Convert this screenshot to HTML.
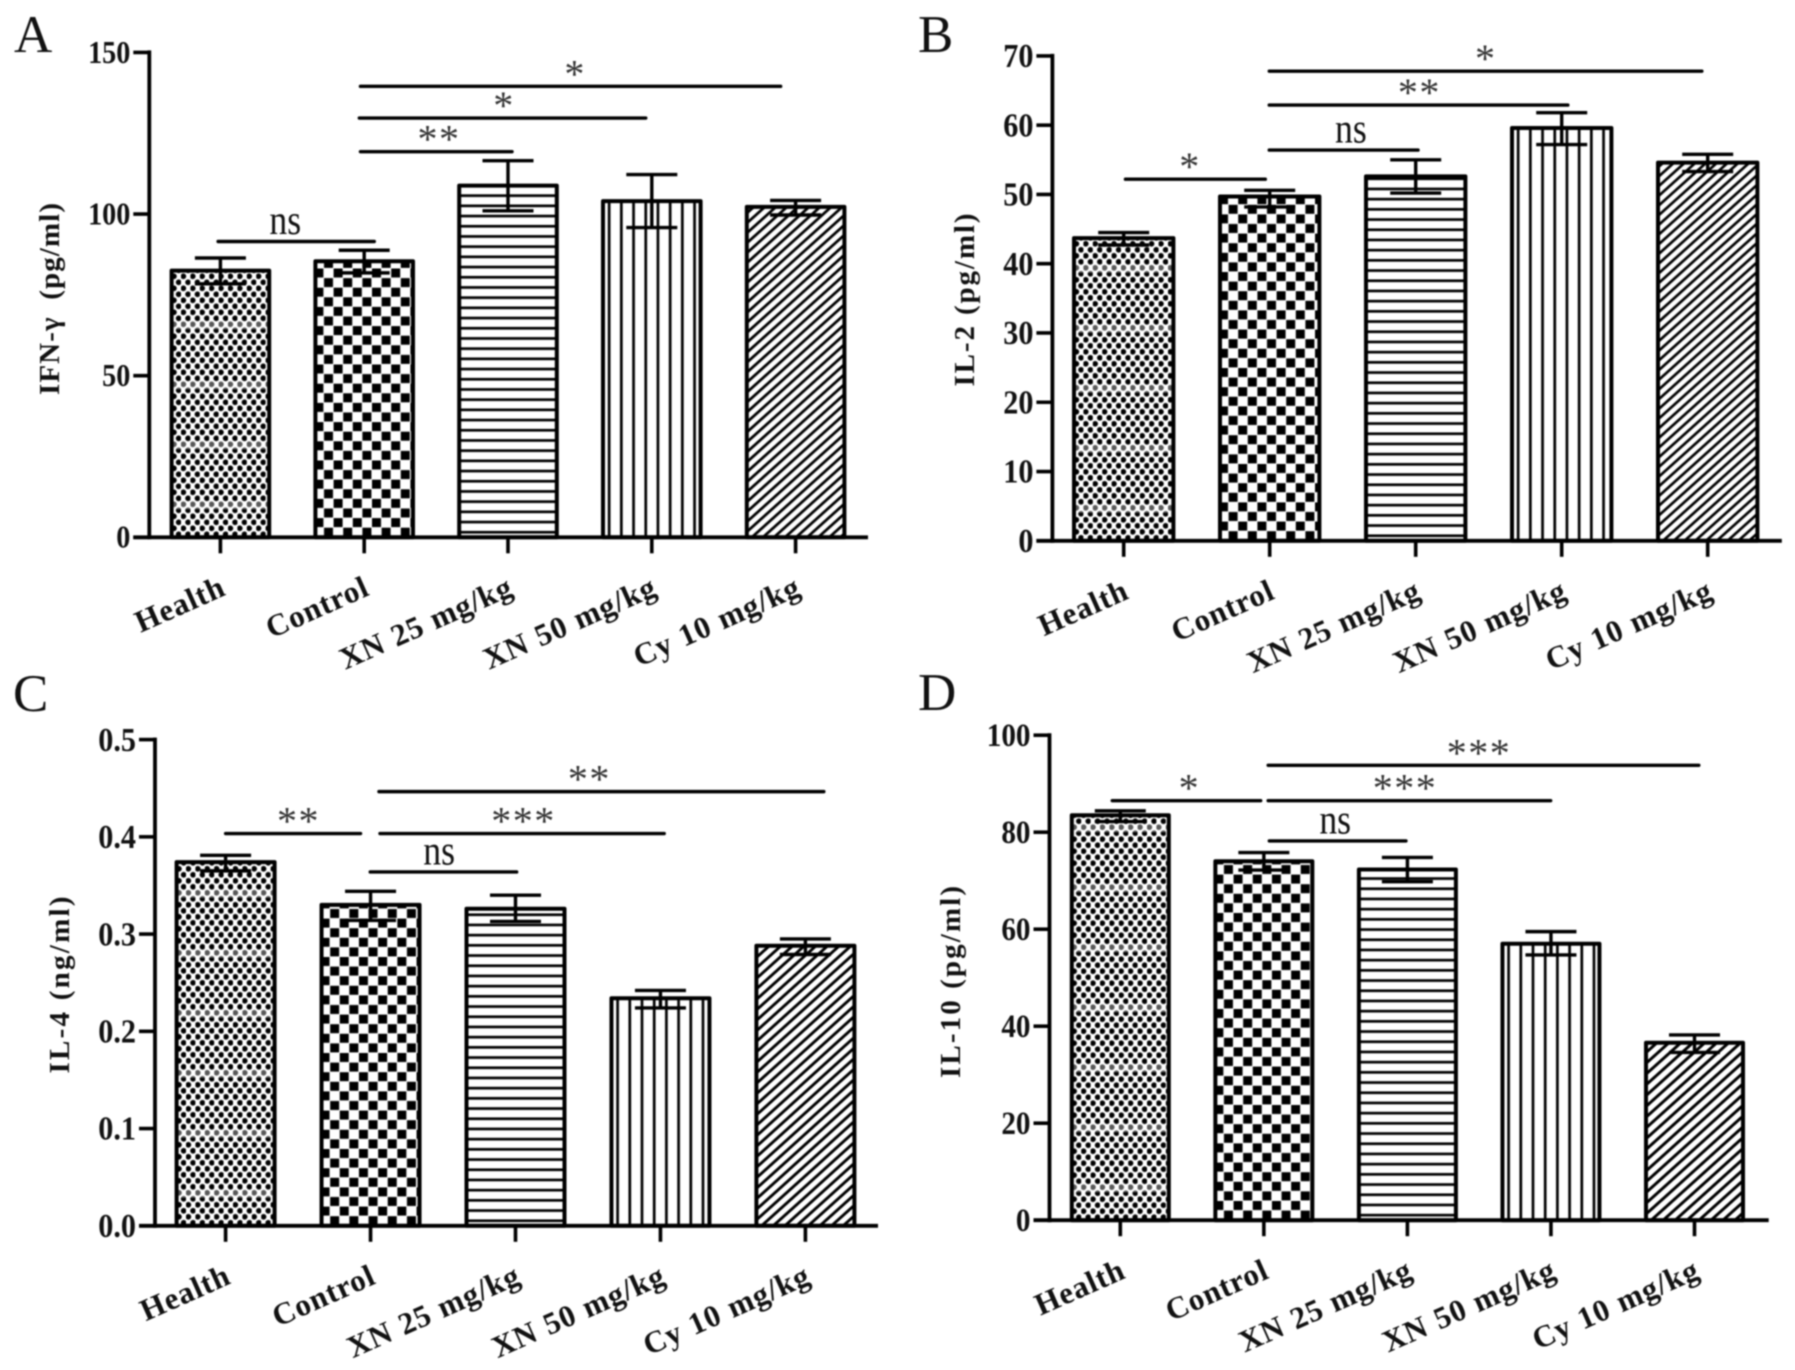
<!DOCTYPE html>
<html lang="en">
<head>
<meta charset="utf-8">
<title>Cytokine levels bar charts</title>
<style>
html,body{margin:0;padding:0;background:#fff;width:1795px;height:1370px;overflow:hidden}
#figure{display:block;filter:blur(0.8px)}
text{font-family:"Liberation Serif","DejaVu Serif",serif;fill:#111}
</style>
</head>
<body>
<svg id="figure" xmlns="http://www.w3.org/2000/svg" width="1795" height="1370" viewBox="0 0 1795 1370">
<defs id="defs"></defs>
</svg>
<script>
// ---- shared categories ----
const categories = ["Health", "Control", "XN 25 mg/kg", "XN 50 mg/kg", "Cy 10 mg/kg"];

// ---- panel A: IFN-gamma ----
const aTicks = ["0", "50", "100", "150"];
const aValues = [82.5, 85.4, 108.8, 104, 102.2];
const aErrHigh = [86.4, 88.8, 116.5, 112.2, 104.2];
const aErrLow = [78.4, 81.8, 101, 95.8, 99.7];
const aSigFrom = [-0.016, 0.974, 0.966, 0.974];
const aSigTo = [1.07, 2.028, 2.958, 3.896];
const aSigLevel = [91.5, 119.3, 129.7, 139.5];
const aSigLabel = ["ns", "**", "*", "*"];
const aSigAt = [0.451, 1.52, 1.972, 2.467];

// ---- panel B: IL-2 ----
const bTicks = ["0", "10", "20", "30", "40", "50", "60", "70"];
const bValues = [43.7, 49.7, 52.6, 59.6, 54.6];
const bErrHigh = [44.5, 50.6, 55, 61.8, 55.8];
const bErrLow = [42.7, 48.2, 50.2, 57.2, 53.3];
const bSigFrom = [0.012, 0.997, 0.997, 0.997];
const bSigTo = [0.97, 2.016, 3.042, 3.96];
const bSigLevel = [52.2, 56.4, 62.9, 67.8];
const bSigLabel = ["*", "ns", "**", "*"];
const bSigAt = [0.454, 1.556, 2.025, 2.48];

// ---- panel C: IL-4 ----
const cTicks = ["0.0", "0.1", "0.2", "0.3", "0.4", "0.5"];
const cValues = [0.374, 0.33, 0.326, 0.234, 0.288];
const cErrHigh = [0.381, 0.344, 0.34, 0.242, 0.295];
const cErrLow = [0.365, 0.314, 0.313, 0.224, 0.279];
const cSigFrom = [0, 1.065, 0.998, 1.058];
const cSigTo = [0.931, 3.026, 2.008, 4.127];
const cSigLevel = [0.4034, 0.4034, 0.3639, 0.4465];
const cSigLabel = ["**", "***", "ns", "**"];
const cSigAt = [0.503, 2.055, 1.473, 2.51];

// ---- panel D: IL-10 ----
const dTicks = ["0", "20", "40", "60", "80", "100"];
const dValues = [83.5, 74, 72.3, 57, 36.6];
const dErrHigh = [84.4, 75.8, 74.8, 59.5, 38.2];
const dErrLow = [82.2, 72.2, 69.8, 54.7, 34.6];
const dSigFrom = [-0.056, 1.03, 1.038, 1.03];
const dSigTo = [0.978, 2.998, 1.99, 4.03];
const dSigLevel = [86.5, 86.5, 78.2, 93.8];
const dSigLabel = ["*", "***", "ns", "***"];
const dSigAt = [0.481, 1.983, 1.497, 2.499];

const panels = [
  {id:"a", letter:"A", lx:14, ly:52, title:"IFN-γ  (pg/ml)", titleX:59, titleY:299, titleLen:192,
   axisX:149.3, xEnd:868, yTop:52.4, yZero:537.3, yMax:150, x0:220.4, step:143.8, half:48.8, tickFs:28, hatch:7.4,
   ticks:aTicks, values:aValues, hi:aErrHigh, lo:aErrLow, sf:aSigFrom, st:aSigTo, sl:aSigLevel, sn:aSigLabel, sa:aSigAt},
  {id:"b", letter:"B", lx:918, ly:52, title:"IL-2 (pg/ml)", titleX:974, titleY:300, titleLen:173,
   axisX:1052.4, xEnd:1781.8, yTop:55.9, yZero:540.8, yMax:70, x0:1123.7, step:146, half:49.7, tickFs:30, hatch:7.2,
   ticks:bTicks, values:bValues, hi:bErrHigh, lo:bErrLow, sf:bSigFrom, st:bSigTo, sl:bSigLevel, sn:bSigLabel, sa:bSigAt},
  {id:"c", letter:"C", lx:13, ly:711, title:"IL-4 (ng/ml)", titleX:69, titleY:985, titleLen:177,
   axisX:155, xEnd:878, yTop:739.6, yZero:1225.8, yMax:0.5, x0:225.6, step:144.95, half:49, tickFs:30, hatch:7.8,
   ticks:cTicks, values:cValues, hi:cErrHigh, lo:cErrLow, sf:cSigFrom, st:cSigTo, sl:cSigLevel, sn:cSigLabel, sa:cSigAt},
  {id:"d", letter:"D", lx:918, ly:710, title:"IL-10 (pg/ml)", titleX:960, titleY:982, titleLen:192,
   axisX:1049.5, xEnd:1768.7, yTop:735.2, yZero:1220.2, yMax:100, x0:1120.3, step:143.55, half:48.5, tickFs:29, hatch:8,
   ticks:dTicks, values:dValues, hi:dErrHigh, lo:dErrLow, sf:dSigFrom, st:dSigTo, sl:dSigLevel, sn:dSigLabel, sa:dSigAt}
];

const NS = "http://www.w3.org/2000/svg";
const svg = document.getElementById("figure");
const defs = document.getElementById("defs");

function make(parent, tag, attrs, txt) {
  const n = document.createElementNS(NS, tag);
  for (const k in attrs) n.setAttribute(k, attrs[k]);
  if (txt !== undefined) n.textContent = txt;
  parent.appendChild(n);
  return n;
}

function makePattern(id, kind, tx, ty, hatch) {
  if (kind === 0) {
    const p = make(defs, "pattern", {id:id, patternUnits:"userSpaceOnUse", width:9.4, height:60, patternTransform:"translate("+tx+" "+ty+")"});
    make(p, "rect", {width:9.4, height:60, fill:"#fff"});
    for (let r = 0; r < 5; r++) {
      make(p, "circle", {cx:2.35, cy:3 + r * 12, r:2.85, fill:"#000"});
      make(p, "circle", {cx:7.05, cy:9 + r * 12, r:2.85, fill:"#000"});
    }
    make(p, "rect", {x:0, y:24, width:9.4, height:8, fill:"#fff", opacity:0.35});
  } else if (kind === 1) {
    const p = make(defs, "pattern", {id:id, patternUnits:"userSpaceOnUse", width:19.2, height:19.2, patternTransform:"translate("+(tx-1)+" "+ty+")"});
    make(p, "rect", {width:19.2, height:19.2, fill:"#fff"});
    make(p, "rect", {x:0, y:0, width:9, height:9, fill:"#000"});
    make(p, "rect", {x:9.6, y:9.6, width:9, height:9, fill:"#000"});
  } else if (kind === 2) {
    const p = make(defs, "pattern", {id:id, patternUnits:"userSpaceOnUse", width:10.2, height:10.2, patternTransform:"translate("+tx+" "+ty+")"});
    make(p, "rect", {width:10.2, height:10.2, fill:"#fff"});
    make(p, "rect", {x:0, y:3.8, width:10.2, height:2.7, fill:"#000"});
  } else if (kind === 3) {
    const p = make(defs, "pattern", {id:id, patternUnits:"userSpaceOnUse", width:12.2, height:12.2, patternTransform:"translate("+tx+" "+ty+")"});
    make(p, "rect", {width:12.2, height:12.2, fill:"#fff"});
    make(p, "rect", {x:4.8, y:0, width:2.7, height:12.2, fill:"#000"});
  } else {
    const p = make(defs, "pattern", {id:id, patternUnits:"userSpaceOnUse", width:hatch, height:hatch, patternTransform:"translate("+tx+" "+ty+") rotate(48)"});
    make(p, "rect", {width:hatch, height:hatch, fill:"#fff"});
    make(p, "rect", {x:2, y:0, width:hatch * 0.37, height:hatch, fill:"#000"});
  }
}

panels.forEach(function (P) {
  const yScale = function (v) { return P.yZero - (v / P.yMax) * (P.yZero - P.yTop); };
  const xScale = function (i) { return P.x0 + i * P.step; };
  const tickLeft = P.axisX - 16;

  const g = make(svg, "g", {});
  
  

  const letter = make(g, "text", {x:P.lx, y:P.ly, "font-size":53}, P.letter);
  
  

  // bars
  P.values.forEach(function (v, i) {
    const cx = xScale(i);
    const top = yScale(v);
    const patId = "pat-" + P.id + "-" + i;
    makePattern(patId, i, cx - P.half, P.yZero, P.hatch);
    const bar = make(g, "rect", {x:cx - P.half, y:top, width:P.half * 2, height:P.yZero - top,
      fill:"url(#" + patId + ")", stroke:"#000", "stroke-width":4, "stroke-linejoin":"round"});
    
    
  });

  // error bars
  P.values.forEach(function (v, i) {
    const cx = xScale(i);
    const hiY = yScale(P.hi[i]);
    const loY = yScale(P.lo[i]);
    const eb = make(g, "path", {d:"M" + (cx - 25.5) + " " + hiY + "H" + (cx + 25.5) + "M" + cx + " " + hiY + "V" + loY + "M" + (cx - 25.5) + " " + loY + "H" + (cx + 25.5),
      fill:"none", stroke:"#000", "stroke-width":3.4});
    
    
  });

  // y axis
  const yAxis = make(g, "line", {x1:P.axisX, x2:P.axisX, y1:P.yTop - 2, y2:P.yZero + 2, stroke:"#000", "stroke-width":3.8});
  
  

  P.ticks.forEach(function (t) {
    const y = yScale(parseFloat(t));
    const tick = make(g, "line", {x1:tickLeft, x2:P.axisX, y1:y, y2:y, stroke:"#000", "stroke-width":3.6});
    
    
    const fs = P.tickFs * 1.13;
    const lab = make(g, "text", {x:0, y:0, "font-size":fs, "font-weight":"bold", "text-anchor":"end",
      transform:"translate(" + (tickLeft - 3) + " " + (y + fs * 0.33) + ") scale(0.89 1)"}, t);
    
    
  });

  // x axis
  const xAxis = make(g, "line", {x1:tickLeft, x2:P.xEnd, y1:P.yZero, y2:P.yZero, stroke:"#000", "stroke-width":3.8});
  
  

  categories.forEach(function (c, i) {
    const cx = xScale(i);
    const tick = make(g, "line", {x1:cx, x2:cx, y1:P.yZero, y2:P.yZero + 16, stroke:"#000", "stroke-width":3.6});
    
    
    const ax = cx + 7;
    const ay = P.yZero + 57;
    const lab = make(g, "text", {x:ax, y:ay, "font-size":31, "font-weight":"bold", "text-anchor":"end", "letter-spacing":0.9, "word-spacing":1,
      transform:"rotate(-24 " + ax + " " + ay + ")"}, c);
    
    
  });

  // y axis title
  const title = make(g, "text", {x:0, y:0, "font-size":29, "font-weight":"bold", "text-anchor":"middle",
    textLength:P.titleLen, lengthAdjust:"spacing", style:"white-space:pre",
    transform:"translate(" + P.titleX + " " + P.titleY + ") rotate(-90)"}, P.title);
  
  

  // significance brackets
  P.sl.forEach(function (lv, i) {
    const y = yScale(lv);
    const line = make(g, "line", {x1:xScale(P.sf[i]), x2:xScale(P.st[i]), y1:y, y2:y, stroke:"#000", "stroke-width":3.4, "stroke-linecap":"round"});
    
    
    const lx = xScale(P.sa[i]);
    let mark;
    if (P.sn[i] === "ns") {
      mark = make(g, "text", {x:0, y:0, "font-size":42, "text-anchor":"middle",
        transform:"translate(" + lx + " " + (y - 7.5) + ") scale(0.85 1)"}, P.sn[i]);
    } else {
      mark = make(g, "text", {x:lx, y:y + 1, "font-size":40, "text-anchor":"middle", "letter-spacing":1.5, style:"fill:#333"}, P.sn[i]);
    }
    
    
  });
});
</script>
</body>
</html>
